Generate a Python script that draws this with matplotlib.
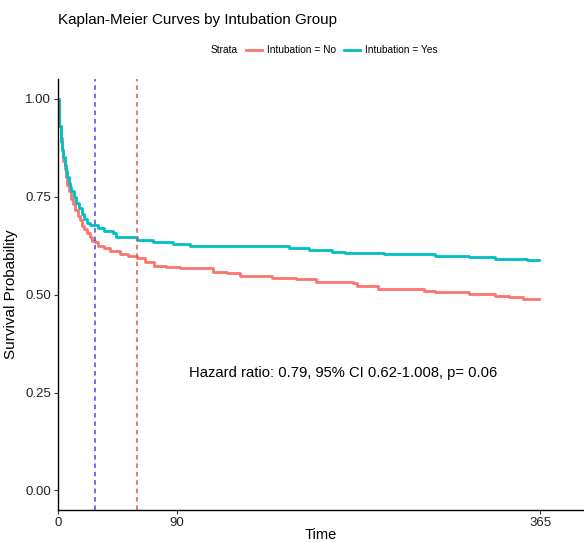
import numpy as np
import matplotlib.pyplot as plt
from matplotlib.offsetbox import HPacker

plt.rcParams['font.family'] = ['Liberation Sans', 'DejaVu Sans']

# Kaplan-Meier step estimates
time_no = [0, 0.5, 1, 2, 3, 4, 5, 6, 7, 8, 10, 11, 13, 15, 17, 18, 20, 22, 24, 26,
           28, 30, 35, 39, 47, 53, 60, 66, 73, 82, 92, 117, 128, 138, 162, 180,
           195, 223, 226, 242, 277, 285, 311, 331, 341, 352, 364]
surv_no = [1.0, 0.95, 0.93, 0.90, 0.87, 0.84, 0.82, 0.80, 0.78, 0.765, 0.745, 0.73,
           0.715, 0.70, 0.69, 0.675, 0.668, 0.658, 0.648, 0.638, 0.634, 0.624, 0.619,
           0.611, 0.603, 0.598, 0.593, 0.583, 0.573, 0.570, 0.568, 0.558, 0.555,
           0.547, 0.543, 0.540, 0.532, 0.529, 0.523, 0.514, 0.510, 0.506, 0.502,
           0.497, 0.493, 0.489, 0.489]

time_yes = [0, 0.5, 1, 2, 3, 4, 5, 6, 7, 8, 9, 10, 12, 14, 16, 18, 20, 22, 24, 30,
            35, 42, 44, 60, 72, 87, 100, 175, 190, 207, 217, 247, 285, 311, 331,
            355, 364]
surv_yes = [1.0, 0.97, 0.93, 0.89, 0.87, 0.85, 0.83, 0.815, 0.80, 0.785, 0.775,
            0.765, 0.748, 0.735, 0.72, 0.706, 0.692, 0.684, 0.677, 0.670, 0.662,
            0.658, 0.647, 0.639, 0.634, 0.629, 0.624, 0.619, 0.614, 0.609, 0.606,
            0.603, 0.599, 0.596, 0.592, 0.588, 0.588]

median_lines = [28, 60]
median_colors = ['#4a4ae0', '#d45a55']
x_ticks = [0, 90, 365]
y_ticks = [0.0, 0.25, 0.5, 0.75, 1.0]
hr_text = "Hazard ratio: 0.79, 95% CI 0.62-1.008, p= 0.06"

fig = plt.figure(figsize=(5.84, 5.42), dpi=100)
ax = fig.add_axes([0.0993, 0.059, 0.9007, 0.795])

ax.step(time_no, surv_no, where='post', color='#F8766D', lw=2.0, label='Intubation = No')
ax.step(time_yes, surv_yes, where='post', color='#00BFC4', lw=2.0, label='Intubation = Yes')

for xv, c in zip(median_lines, median_colors):
    ax.axvline(xv, color=c, lw=1.1, ls=(0, (3, 2.5)))

ax.text(216, 0.30, hr_text, ha='center', va='center', fontsize=10.6)

ax.set_xlim(0, 398)
ax.set_ylim(-0.05, 1.05)
ax.set_xticks(x_ticks)
ax.set_yticks(y_ticks)
ax.set_yticklabels(['%.2f' % v for v in y_ticks])
ax.tick_params(labelsize=9.5, length=3, width=0.8, color='#333333', labelcolor='#222222', pad=2)
for s in ['top', 'right']:
    ax.spines[s].set_visible(False)
for s in ['left', 'bottom']:
    ax.spines[s].set_linewidth(1.0)
ax.set_xlabel('Time', fontsize=10.5, labelpad=-1)
ax.set_ylabel('Survival Probability', fontsize=11, labelpad=5)

fig.text(0.0993, 0.963, 'Kaplan-Meier Curves by Intubation Group', fontsize=10.9,
         ha='left', va='center')
handles, labels = ax.get_legend_handles_labels()
leg = fig.legend(handles, labels, loc='center', bbox_to_anchor=(0.555, 0.907), ncol=2,
                 frameon=False, fontsize=7.3, title='Strata', title_fontsize=7.3,
                 handlelength=1.6, handletextpad=0.5, columnspacing=0.8)
# put the title on the same row as the entries
box = leg._legend_box
box._children = [HPacker(children=[box._children[0], box._children[1]],
                         align='center', pad=0, sep=6)]

fig.savefig('out.png', dpi=100)
